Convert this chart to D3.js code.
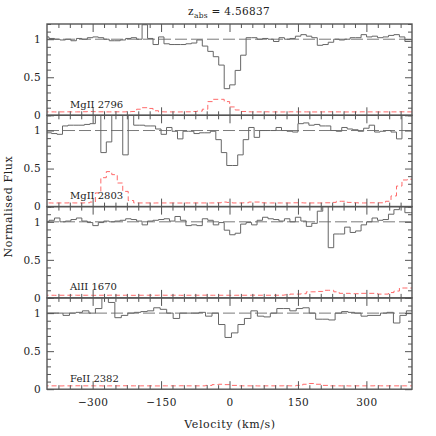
<!DOCTYPE html>
<html><head><meta charset="utf-8">
<script src="https://cdn.jsdelivr.net/npm/d3@7"></script>
<style>
body{margin:0;background:#fff}
svg{display:block}
text{font-family:"DejaVu Serif",serif;fill:#222}
</style>
</head><body><svg id="c" width="436" height="436"></svg>
<script>
// ---------------- data ----------------
const redshift = "4.56837";
const lineNames = ["MgII 2796", "MgII 2803", "AlII 1670", "FeII 2382"];
const velocityDomain = [-400, 400];
const fluxDomain = [0, 1.2];
const xMajorTicks = [-300, -150, 0, 150, 300];
const xMinorStep = 25;
const yMajorTicks = [0, 0.5, 1];
const yMinorStep = 0.1;

// pixel grid of each transition (first bin edge, bin width in km/s)
const velStart = [-407.6, -414.0, -407.6, -407.5];
const velStep = [12, 12, 12, 14.2];

const fluxMgII2796 = [1.03,1.01,1.0,0.99,1.0,0.98,1.01,1.0,1.02,1.03,1.02,1.0,0.98,0.98,0.99,1.01,1.02,1.0,1.19,1.01,
  0.93,1.03,0.94,0.93,0.93,0.93,0.94,0.95,0.99,0.91,0.84,0.77,0.66,0.35,0.40,0.59,0.79,1.02,1.02,1.0,
  1.01,1.0,0.97,1.02,1.0,1.01,1.04,1.06,1.04,1.02,0.92,0.93,0.96,1.0,0.99,1.0,1.02,1.02,1.06,1.03,
  1.04,1.02,1.03,1.05,1.06,1.03,0.97,0.97];
const errMgII2796 = [0.045,0.045,0.044,0.045,0.046,0.045,0.045,0.047,0.05,0.048,0.046,0.045,0.045,0.046,0.045,0.047,0.05,0.08,0.10,0.09,
  0.06,0.046,0.045,0.045,0.044,0.045,0.046,0.05,0.055,0.08,0.18,0.21,0.21,0.18,0.11,0.07,0.05,0.046,0.045,0.045,
  0.046,0.045,0.045,0.044,0.045,0.046,0.045,0.045,0.045,0.044,0.045,0.045,0.046,0.045,0.045,0.044,0.045,0.045,0.046,0.045,
  0.045,0.044,0.045,0.045,0.045,0.046,0.045,0.045];

const fluxMgII2803 = [0.97,0.97,0.96,0.95,1.06,1.07,1.07,1.07,1.08,1.09,1.25,0.71,0.85,1.25,1.25,0.68,1.25,1.07,1.07,1.06,
  1.06,1.02,0.95,1.04,0.99,0.89,0.99,0.99,0.96,0.97,0.97,0.99,0.88,0.71,0.54,0.54,0.68,0.88,1.04,0.91,
  1.0,1.0,1.0,1.04,1.0,0.99,0.98,1.09,1.1,1.07,1.08,1.06,1.06,1.0,0.99,1.04,1.02,1.01,0.99,1.03,
  1.07,0.98,0.99,1.0,0.98,0.89,1.25,1.25];
const errMgII2803 = [0.048,0.048,0.047,0.048,0.048,0.049,0.048,0.048,0.05,0.06,0.18,0.38,0.46,0.42,0.31,0.20,0.08,0.048,0.048,0.048,
  0.047,0.048,0.048,0.048,0.048,0.047,0.048,0.048,0.048,0.048,0.048,0.048,0.05,0.06,0.055,0.048,0.048,0.05,0.06,0.06,
  0.05,0.048,0.048,0.048,0.048,0.048,0.05,0.05,0.048,0.048,0.048,0.048,0.05,0.055,0.07,0.07,0.055,0.05,0.048,0.048,
  0.05,0.05,0.05,0.07,0.14,0.27,0.35,0.36];

const fluxAlII1670 = [1.0,1.02,1.05,1.0,1.01,1.03,1.05,1.01,0.99,0.95,0.99,1.01,1.0,1.01,1.02,1.04,1.03,1.01,0.96,1.01,
  1.02,1.03,1.04,1.01,1.07,1.02,0.95,0.96,0.95,1.04,1.02,0.96,0.99,0.89,0.83,0.85,0.97,0.99,0.96,1.02,
  1.06,1.04,1.03,1.01,1.04,1.0,1.06,1.01,0.94,0.98,1.14,1.25,0.66,0.84,0.84,0.93,0.86,0.88,0.96,1.0,
  1.05,1.02,1.03,1.1,1.16,1.2,1.12,1.12];
const errAlII1670 = [0.035,0.035,0.034,0.035,0.035,0.036,0.035,0.035,0.035,0.034,0.035,0.035,0.036,0.035,0.035,0.035,0.034,0.035,0.035,0.035,
  0.035,0.036,0.035,0.035,0.035,0.034,0.035,0.035,0.035,0.036,0.035,0.035,0.035,0.035,0.034,0.035,0.035,0.035,0.036,0.035,
  0.035,0.035,0.035,0.036,0.04,0.05,0.05,0.055,0.08,0.08,0.085,0.1,0.1,0.08,0.06,0.06,0.055,0.055,0.06,0.06,
  0.06,0.05,0.05,0.07,0.09,0.13,0.13,0.13];

const fluxFeII2382 = [1.0,1.0,1.0,0.97,1.0,1.01,1.03,1.0,1.06,1.22,1.14,0.94,0.97,1.0,1.01,1.02,1.03,1.07,1.05,1.0,
  0.93,1.0,1.0,1.0,1.01,0.96,1.0,0.85,0.68,0.74,0.85,0.93,1.03,0.96,0.95,1.0,1.06,1.06,1.03,1.06,
  1.07,1.0,0.92,0.92,0.91,1.0,1.02,1.01,1.0,0.96,0.97,0.97,1.0,1.01,0.87,0.97,1.03];
const errFeII2382 = [0.044,0.044,0.043,0.044,0.044,0.045,0.044,0.044,0.044,0.043,0.044,0.044,0.045,0.044,0.044,0.044,0.044,0.043,0.044,0.044,
  0.044,0.045,0.044,0.044,0.044,0.05,0.06,0.065,0.06,0.05,0.044,0.044,0.044,0.043,0.044,0.044,0.044,0.045,0.044,0.05,
  0.065,0.075,0.065,0.05,0.044,0.044,0.044,0.043,0.044,0.044,0.044,0.045,0.044,0.044,0.044,0.044,0.044];

const fluxes = [fluxMgII2796, fluxMgII2803, fluxAlII1670, fluxFeII2382];
const errors = [errMgII2796, errMgII2803, errAlII1670, errFeII2382];

// ---------------- drawing ----------------
(function draw() {
const svg = d3.select("#c");
const pLeft = 47, pRight = 412, pTop = 24, panelH = 91.3;
const x = d3.scaleLinear().domain(velocityDomain).range([pLeft, pRight]);
const xMinor = d3.range(velocityDomain[0] + xMinorStep, velocityDomain[1], xMinorStep).filter(v => !xMajorTicks.includes(v));
const yMinor = d3.range(0, 1.2001, yMinorStep).map(v => +v.toFixed(2)).filter(v => !yMajorTicks.includes(v));

const frameColor = "#555";

function stepPoints(i) {
  const f = fluxes[i], e = errors[i];
  const pts = f.map((v, k) => ({v: velStart[i] + k * velStep[i], f: v, e: e[k]}));
  const last = pts[pts.length - 1];
  pts.push({v: last.v + velStep[i], f: last.f, e: last.e});
  return pts;
}

lineNames.forEach((name, i) => {
  const y0 = pTop + i * panelH, y1 = y0 + panelH;
  const y = d3.scaleLinear().domain(fluxDomain).range([y1, y0]);
  const g = svg.append("g");
  const clipId = "clip" + i;
  svg.append("clipPath").attr("id", clipId).append("rect")
    .attr("x", pLeft).attr("y", y0).attr("width", pRight - pLeft).attr("height", panelH);

  const pts = stepPoints(i);
  const data = g.append("g").attr("clip-path", `url(#${clipId})`);

  data.append("line").attr("x1", pLeft).attr("x2", pRight).attr("y1", y(1)).attr("y2", y(1))
    .attr("stroke", "#7a7a7a").attr("stroke-width", 1).attr("stroke-dasharray", "12,4");

  data.append("path").datum(pts)
    .attr("d", d3.line().curve(d3.curveStepAfter).x(d => x(d.v)).y(d => y(d.e)))
    .attr("fill", "none").attr("stroke", "#ff6a6a").attr("stroke-width", 1)
    .attr("stroke-dasharray", "5,3");

  data.append("path").datum(pts)
    .attr("d", d3.line().curve(d3.curveStepAfter).x(d => x(d.v)).y(d => y(d.f)))
    .attr("fill", "none").attr("stroke", "#666").attr("stroke-width", 1);

  const mk = (axisFn, scale, vals, size, tr) => {
    const a = g.append("g").attr("transform", tr)
      .call(axisFn(scale).tickValues(vals).tickSize(size).tickFormat(""));
    a.select(".domain").remove();
    a.selectAll("line").attr("stroke", frameColor).attr("stroke-width", 1);
    return a;
  };
  mk(d3.axisBottom, x, xMinor, -4, `translate(0,${y1})`);
  mk(d3.axisBottom, x, xMajorTicks, -8, `translate(0,${y1})`);
  mk(d3.axisTop, x, xMinor, -4, `translate(0,${y0})`);
  mk(d3.axisTop, x, xMajorTicks, -8, `translate(0,${y0})`);
  mk(d3.axisLeft, y, yMinor, -4, `translate(${pLeft},0)`);
  mk(d3.axisRight, y, yMinor, -4, `translate(${pRight},0)`);
  mk(d3.axisRight, y, yMajorTicks, -7, `translate(${pRight},0)`);

  const yAx = g.append("g").attr("transform", `translate(${pLeft},0)`)
    .call(d3.axisLeft(y).tickValues(yMajorTicks).tickSize(-7).tickPadding(6).tickFormat(d3.format("")));
  yAx.select(".domain").remove();
  yAx.selectAll("line").attr("stroke", frameColor);
  yAx.selectAll("text").style("font-family", '"DejaVu Serif",serif').style("font-size", "10.5px")
    .style("letter-spacing", "0.3px").attr("fill", "#222");

  if (i === lineNames.length - 1) {
    const xAx = g.append("g").attr("transform", `translate(0,${y1})`)
      .call(d3.axisBottom(x).tickValues(xMajorTicks).tickSize(0).tickPadding(9)
        .tickFormat(d => d < 0 ? "\u2212" + Math.abs(d) : d));
    xAx.select(".domain").remove();
    xAx.selectAll("text").style("font-family", '"DejaVu Serif",serif').style("font-size", "10.5px")
      .style("letter-spacing", "0.4px").attr("fill", "#222");
  }

  g.append("rect").attr("x", pLeft).attr("y", y0).attr("width", pRight - pLeft).attr("height", panelH)
    .attr("fill", "none").attr("stroke", frameColor).attr("stroke-width", 1.4);

  g.append("text").attr("x", pLeft + 23).attr("y", y1 - 7.5)
    .style("font-size", "10px").attr("fill", "#333").text(name);
});

const t = svg.append("text").attr("x", 229).attr("y", 15).attr("text-anchor", "middle")
  .style("font-size", "10.5px").style("letter-spacing", "0.3px");
t.append("tspan").text("z");
t.append("tspan").attr("dy", 3).style("font-size", "7.5px").text("abs");
t.append("tspan").attr("dy", -3).text(" = " + redshift);

svg.append("text").attr("x", 230).attr("y", 428).attr("text-anchor", "middle")
  .style("font-size", "11px").style("letter-spacing", "0.6px").text("Velocity (km/s)");
svg.append("text").attr("transform", `translate(12,${pTop + 2 * panelH}) rotate(-90)`)
  .attr("text-anchor", "middle").style("font-size", "11px").style("letter-spacing", "0.6px").text("Normalised Flux");
})();
</script>
</body></html>
